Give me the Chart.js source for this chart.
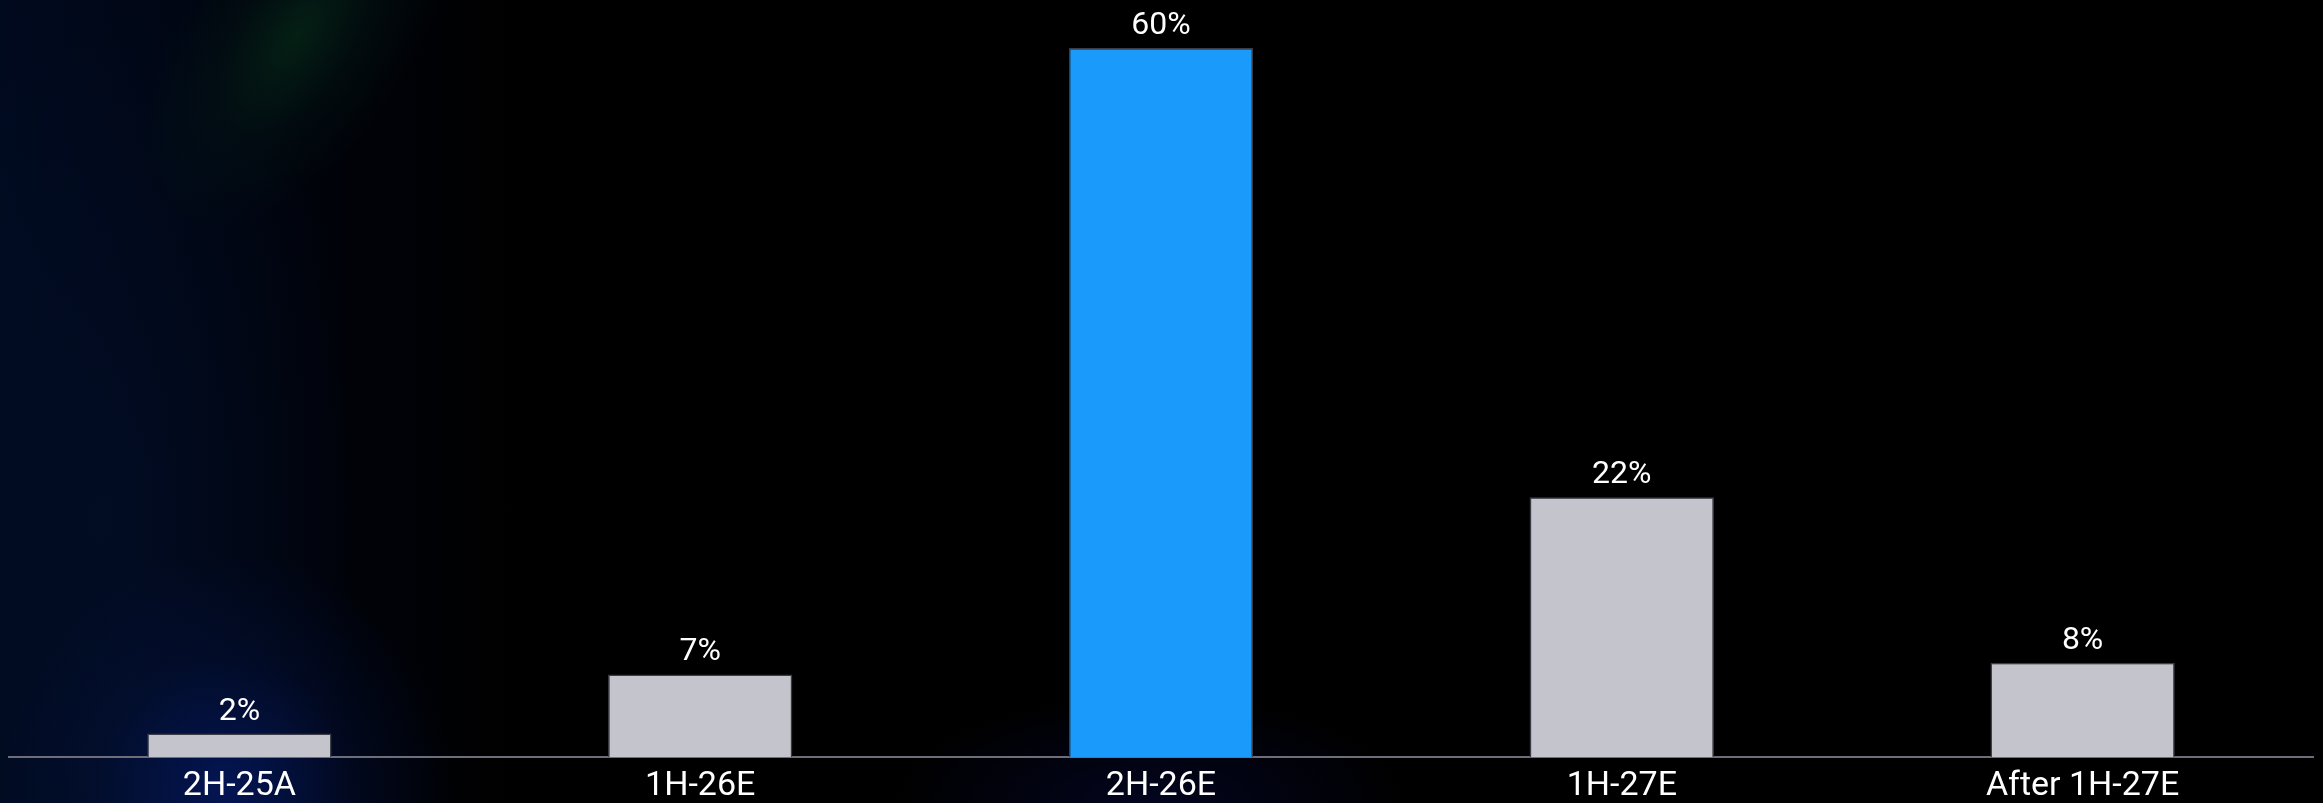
<!DOCTYPE html>
<html>
<head>
<meta charset="utf-8">
<script src="https://cdn.jsdelivr.net/npm/chart.js@4/dist/chart.umd.min.js"></script>
<style>
  html, body { margin: 0; padding: 0; }
  body {
    width: 2323px; height: 803px; overflow: hidden;
    background:
      radial-gradient(ellipse 230px 240px at 225px 790px, rgba(4,24,95,.85), rgba(4,20,70,.35) 55%, rgba(0,0,0,0) 100%),
      radial-gradient(ellipse 260px 110px at 1150px 803px, rgba(6,10,60,.5), rgba(0,0,0,0) 100%),
      radial-gradient(ellipse 260px 600px at 100px 520px, rgba(2,14,40,.75), rgba(0,0,0,0) 100%),
      linear-gradient(90deg, #000a1e 0px, #00040f 220px, #000 520px);
  }
  #wrap { position: relative; width: 2323px; height: 803px; overflow: hidden; }
  /* faint green beam from the top edge */
  #beam {
    position: absolute; left: 150px; top: -150px; width: 230px; height: 460px;
    transform: rotate(35deg);
    background: radial-gradient(ellipse 50% 50% at 50% 38%, rgba(5,36,22,.85), rgba(3,22,20,.45) 50%, rgba(0,0,0,0) 100%);
  }
  canvas { position: absolute; left: 0; top: 0; }
</style>
</head>
<body>
<div id="wrap"><div id="beam"></div><canvas id="chart" width="2323" height="816"></canvas></div>
<script>
// Share of volume by period
const periods = ['2H-25A', '1H-26E', '2H-26E', '1H-27E', 'After 1H-27E'];
const shares = [2, 7, 60, 22, 8];
const barColors = ['#c4c4cc', '#c4c4cc', '#1a9bfc', '#c4c4cc', '#c4c4cc'];

const FONT = 'Roboto, "DejaVu Sans", sans-serif';

// value labels above each bar
const valueLabels = {
  id: 'valueLabels',
  afterDatasetsDraw(chart) {
    const ctx = chart.ctx;
    const meta = chart.getDatasetMeta(0);
    ctx.save();
    ctx.fillStyle = '#ffffff';
    ctx.font = '32px ' + FONT;
    ctx.textAlign = 'center';
    ctx.textBaseline = 'alphabetic';
    meta.data.forEach((bar, i) => {
      ctx.fillText(shares[i] + '%', bar.x, bar.y - 14);
    });
    ctx.restore();
  }
};

new Chart(document.getElementById('chart'), {
  type: 'bar',
  data: {
    labels: periods,
    datasets: [{
      data: shares,
      backgroundColor: barColors,
      borderColor: '#3c3c46',
      borderWidth: 1.5,
      categoryPercentage: 0.4,
      barPercentage: 1
    }]
  },
  options: {
    responsive: false,
    animation: false,
    layout: { padding: { top: 48, left: 9, right: 10, bottom: 0 } },
    plugins: { legend: { display: false }, tooltip: { enabled: false } },
    scales: {
      y: { display: false, min: 0, max: 60 },
      x: {
        grid: { display: false, drawTicks: false },
        border: { display: true, color: '#6e6e7a', width: 2 },
        ticks: { color: '#ffffff', padding: 9, font: { family: FONT, size: 34 } }
      }
    }
  },
  plugins: [valueLabels]
});
</script>
</body>
</html>
